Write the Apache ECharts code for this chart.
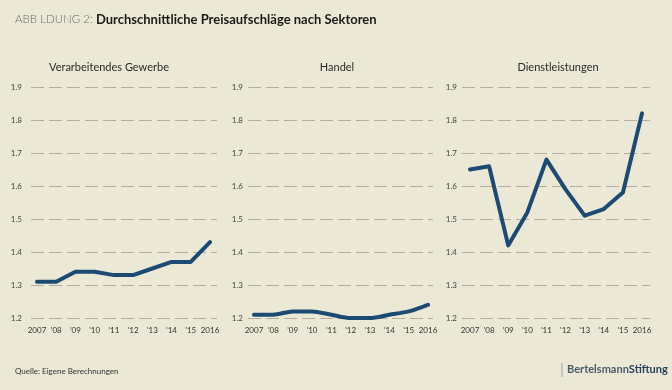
<!DOCTYPE html>
<html><head><meta charset="utf-8">
<script src="https://cdn.jsdelivr.net/npm/echarts@6/dist/echarts.min.js"></script>
<style>html,body{margin:0;padding:0;background:#ece8d6;}#c{width:672px;height:390px;}</style>
</head><body><div id="c"></div>
<script>
const years = ["2007","'08","'09","'10","'11","'12","'13","'14","'15","2016"];
const panelTitles = ["Verarbeitendes Gewerbe","Handel","Dienstleistungen"];
const verarbeitendes = [1.31,1.31,1.34,1.34,1.33,1.33,1.35,1.37,1.37,1.43];
const handel = [1.21,1.21,1.22,1.22,1.21,1.20,1.20,1.21,1.22,1.24];
const dienstleistungen = [1.65,1.66,1.42,1.52,1.68,1.59,1.51,1.53,1.58,1.82];
const yTicks = [1.2,1.3,1.4,1.5,1.6,1.7,1.8,1.9];

const seriesData = [verarbeitendes, handel, dienstleistungen];
const dataGrids = [
  {left:37, right:462, top:87, bottom:72},
  {left:254, right:244, top:87, bottom:72},
  {left:470, right:30, top:87, bottom:72}
];
const lineGrids = [
  {left:31, right:455, top:87, bottom:72},
  {left:248, right:239, top:87, bottom:72},
  {left:462, right:22, top:87, bottom:72}
];
const labelMargins = [9, 5, 5];
const titleCenters = [109, 337, 558];
const font = 'Lato, "Open Sans", sans-serif';
const lineColor = '#1d4a73';

const grids = lineGrids.concat(dataGrids);
const xAxes = [], yAxes = [];
lineGrids.forEach((g,i)=>{
  xAxes.push({type:'category', gridIndex:i, data:years, show:false});
  yAxes.push({type:'value', gridIndex:i, min:1.2, max:1.9, interval:0.1,
    axisLine:{show:false}, axisTick:{show:false},
    axisLabel:{fontFamily:font,fontSize:8,color:'#444',margin:labelMargins[i],
      formatter:v=>{const t=yTicks.find(x=>Math.abs(x-v)<1e-6);return t!==undefined?t.toFixed(1):'';}},
    splitLine:{show:true,lineStyle:{color:'#b3ae9e',width:1,type:[13,5]}}});
});
dataGrids.forEach((g,i)=>{
  xAxes.push({type:'category', gridIndex:3+i, data:years, boundaryGap:false,
    axisLine:{show:false}, axisTick:{show:false},
    axisLabel:{fontFamily:font,fontSize:8,color:'#333',margin:8,interval:0}});
  yAxes.push({type:'value', gridIndex:3+i, min:1.2, max:1.9, interval:0.1,
    axisLine:{show:false}, axisTick:{show:false}, axisLabel:{show:false}, splitLine:{show:false}});
});

const option = {
  backgroundColor:'#ece8d6',
  animation:false,
  title: [
    {text:'{a|ABB LDUNG 2: }{b|Durchschnittliche Preisaufschläge nach Sektoren}', left:15, top:13, padding:0,
     textStyle:{rich:{a:{fontFamily:font,fontSize:11.5,color:'#6b6b6b',fontWeight:300},
                      b:{fontFamily:font,fontSize:13,color:'#1a1a1a',fontWeight:'bold'}}}},
    ...panelTitles.map((t,i)=>({text:t, left:titleCenters[i], top:62, padding:0, textAlign:'center',
      textStyle:{fontFamily:font,fontSize:11,color:'#2a2a2a',fontWeight:'normal'}})),
    {text:'Quelle: Eigene Berechnungen', left:15, top:367, padding:0,
     textStyle:{fontFamily:'"Liberation Sans Narrow", Lato, sans-serif',fontSize:8,color:'#333',fontWeight:'normal'}},
    {text:'{a|Bertelsmann}{b|Stiftung}', left:567, top:364, padding:0,
     textStyle:{rich:{a:{fontFamily:font,fontSize:11,color:'#4a5a6e'},b:{fontFamily:font,fontSize:11,color:'#24405c',fontWeight:'bold'}}}}
  ],
  graphic:[{type:'line', shape:{x1:562,y1:363,x2:562,y2:377}, style:{stroke:'#9aa5b0',lineWidth:1}}],
  grid: grids,
  xAxis: xAxes,
  yAxis: yAxes,
  series: seriesData.map((d,i)=>({type:'line', xAxisIndex:3+i, yAxisIndex:3+i, data:d,
    symbol:'none', smooth:i===1?0.3:false, lineStyle:{color:lineColor,width:4,cap:'round',join:'round'}}))
};
echarts.init(document.getElementById('c'),null,{renderer:'canvas'}).setOption(option);
</script></body></html>
